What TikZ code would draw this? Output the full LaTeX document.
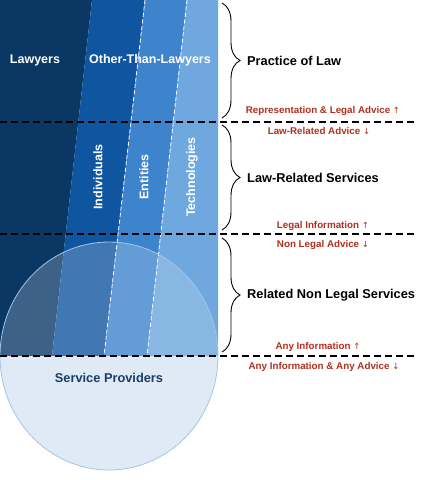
\documentclass[tikz,border=0pt]{standalone}
\usepackage{fontspec}
\setmainfont{Liberation Sans}
\newfontfamily\arrowfont{DejaVu Sans}
\usetikzlibrary{decorations.pathreplacing}
\definecolor{cLaw}{HTML}{0B3765}
\definecolor{cInd}{HTML}{10559F}
\definecolor{cEnt}{HTML}{3D84CC}
\definecolor{cTech}{HTML}{6EA8DF}
\definecolor{cCirc}{HTML}{DFEAF6}
\definecolor{cCircB}{HTML}{A3C5E8}
\definecolor{cRed}{HTML}{B0301F}
\definecolor{cSP}{HTML}{1B3D66}
\tikzset{
  whitelbl/.style={text=white,font=\fontsize{12.5}{14}\selectfont\bfseries,inner sep=0pt},
  catlbl/.style={text=black,font=\fontsize{12.8}{15}\selectfont\bfseries,anchor=west,inner sep=0pt},
  redlbl/.style={text=cRed,font=\fontsize{9.8}{12}\selectfont\bfseries,inner sep=0pt},
  sep/.style={black,line width=1.4pt,dash pattern=on 6.5pt off 4.5pt},
  stripesep/.style={white,line width=0.8pt,dash pattern=on 4pt off 2.5pt},
  bracedeco/.style={decorate,decoration={brace,amplitude=18pt},line width=0.9pt,black},
}
\newcommand{\upar}{{\arrowfont\fontsize{8.5}{10}\selectfont\mdseries ↑}}
\newcommand{\dnar}{{\arrowfont\fontsize{8.5}{10}\selectfont\mdseries ↓}}
\begin{document}
\begin{tikzpicture}[x=1pt,y=-1pt]
\useasboundingbox (0,0) rectangle (425,480);
% stripes
\fill[cLaw] (0,0) -- (92,0) -- (52,356) -- (0,356) -- cycle;
\fill[cInd] (92,0) -- (145,0) -- (104,356) -- (52,356) -- cycle;
\fill[cEnt] (145,0) -- (187,0) -- (147,356) -- (104,356) -- cycle;
\fill[cTech] (187,0) -- (218,0) -- (218,356) -- (147,356) -- cycle;
\draw[stripesep] (145,0) -- (104,356);
\draw[stripesep] (187,0) -- (147,356);
% circle
\begin{scope}
\clip (0,356) rectangle (225,480);
\fill[cCirc] (109,356) ellipse [x radius=109, y radius=114];
\end{scope}
\fill[cCirc,fill opacity=0.24] (109,356) ellipse [x radius=109, y radius=114];
\draw[cCircB,line width=0.8pt] (109,356) ellipse [x radius=109, y radius=114];
% separators
\coordinate (s1a) at (0,122); \coordinate (s1b) at (415,122);
\coordinate (s2a) at (0,234); \coordinate (s2b) at (415,234);
\coordinate (s3a) at (0,356); \coordinate (s3b) at (415,356);
\draw[sep] (s1a) -- (s1b);
\draw[sep] (s2a) -- (s2b);
\draw[sep] (s3a) -- (s3b);
% braces
\coordinate (b1t) at (222,3); \coordinate (b1b) at (222,118);
\coordinate (b2t) at (222,125); \coordinate (b2b) at (222,230);
\coordinate (b3t) at (222,238); \coordinate (b3b) at (222,352);
\draw[bracedeco] (b1t) -- (b1b);
\draw[bracedeco] (b2t) -- (b2b);
\draw[bracedeco] (b3t) -- (b3b);
% labels
\node[whitelbl] (lawyers) at (35,60) {Lawyers};
\node[whitelbl] (otl) at (150,60) {Other-Than-Lawyers};
\node[whitelbl,rotate=90] (ind) at (98,177) {Individuals};
\node[whitelbl,rotate=90] (ent) at (144,177) {Entities};
\node[whitelbl,rotate=90] (tech) at (192,177) {Technologies};
\node[catlbl] (pol) at (247,61) {Practice of Law};
\node[catlbl] (lrs) at (247,178) {Law-Related Services};
\node[catlbl] (rnls) at (247,295) {Related Non Legal Services};
\node[redlbl] (r1) at (323,111) {Representation \& Legal Advice \upar};
\node[redlbl] (r2) at (319,131) {Law-Related Advice \dnar};
\node[redlbl] (r3) at (323,226) {Legal Information \upar};
\node[redlbl] (r4) at (323,245) {Non Legal Advice \dnar};
\node[redlbl] (r5) at (318,347) {Any Information \upar};
\node[redlbl] (r6) at (324,367) {Any Information \& Any Advice \dnar};
\node[text=cSP,font=\fontsize{12.8}{15}\selectfont\bfseries,inner sep=0pt] (sp) at (109,378) {Service Providers};
\end{tikzpicture}
\end{document}
